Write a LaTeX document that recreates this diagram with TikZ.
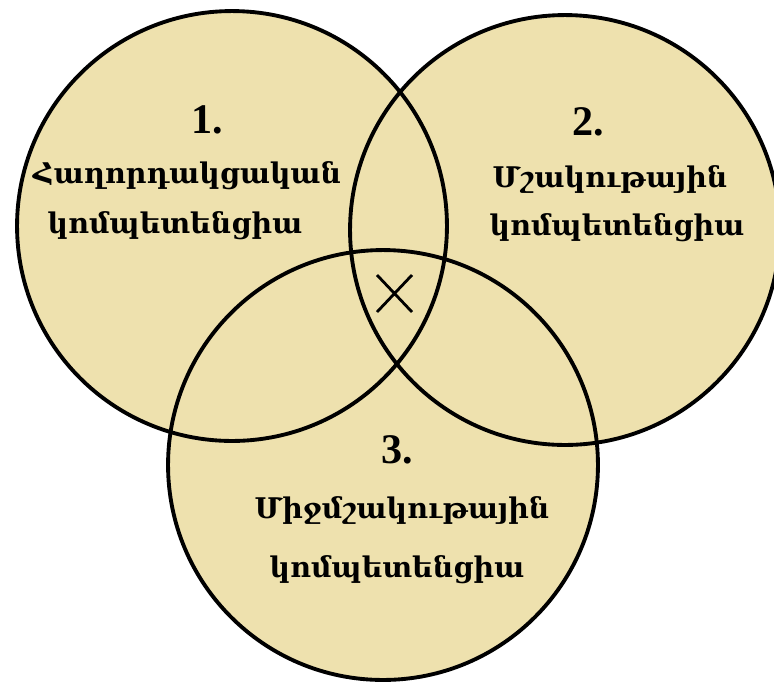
\documentclass[tikz,border=0pt]{standalone}
\usepackage{fontspec}
\usepackage{tikz}
\usetikzlibrary{positioning}
\newfontfamily\armfont{DejaVu Serif}
\newfontfamily\numfont{Liberation Serif}
\definecolor{venn-fill}{HTML}{EEE1AE}
\tikzset{
  venn line/.style={draw=black, line width=2.2pt},
  numlabel/.style={anchor=base, inner sep=0pt, font=\numfont\bfseries\fontsize{24}{24}\selectfont},
  armlabel/.style={anchor=base, inner sep=0pt, font=\armfont\bfseries\fontsize{16.2}{16}\selectfont},
}
\begin{document}
\begin{tikzpicture}[x=0.02cm, y=-0.02cm]
    \useasboundingbox (0,0) rectangle (774,681);
    % ── centres of the three circles
    \coordinate (c1) at (232,226);
    \coordinate (c2) at (565,230);
    \coordinate (c3) at (383,465);
    % ── fills first, then outlines on top
    \foreach \c in {c1,c2,c3}
      \fill[venn-fill] (\c) circle (4.3cm);
    \foreach \c in {c1,c2,c3}
      \draw[venn line] (\c) circle (4.3cm);
    % ── circle 1
    \node[numlabel] (n1) at (207,133) {1.};
    \node[armlabel] (t1a) at (187,183) {Հաղորդակցական};
    \node[armlabel] (t1b) at (175,233) {կոմպետենցիա};
    % ── circle 2
    \node[numlabel] (n2) at (588,135) {2.};
    \node[armlabel] (t2a) at (610,187) {Մշակութային};
    \node[armlabel] (t2b) at (617,235) {կոմպետենցիա};
    % ── circle 3
    \node[numlabel] (n3) at (397,463) {3.};
    \node[armlabel] (t3a) at (402,518) {Միջմշակութային};
    \node[armlabel] (t3b) at (397,577) {կոմպետենցիա};
    % ── mark in the common part
    \draw[line width=1.6pt] (377,275) -- (412,312) (412,275) -- (377,312);
\end{tikzpicture}
\end{document}
